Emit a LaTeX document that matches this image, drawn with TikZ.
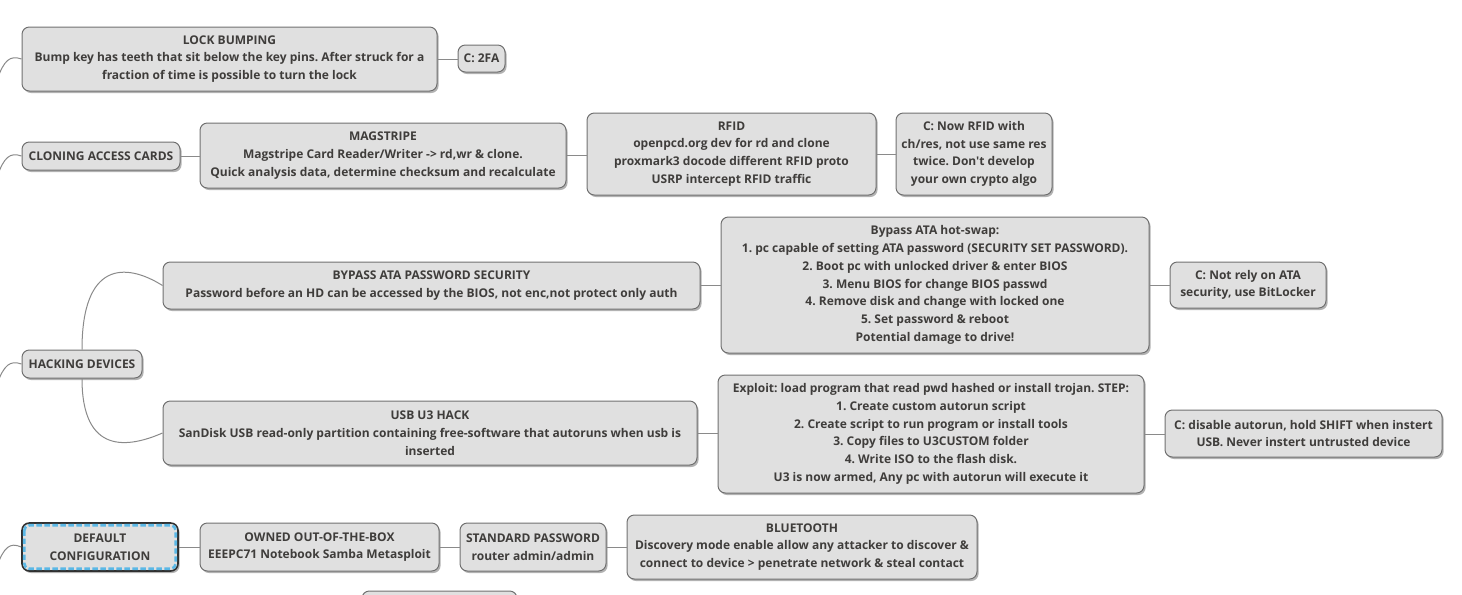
\documentclass[tikz,border=0pt]{standalone}
\usepackage{fontspec}
\setmainfont{Open Sans}[Ligatures=TeXOff]
\usetikzlibrary{shadows,calc}
\definecolor{boxc}{HTML}{E0E0E0}
\definecolor{bordc}{HTML}{707070}
\definecolor{txtc}{HTML}{3F3D3B}
\definecolor{linec}{HTML}{8A8A8A}
\definecolor{selc}{HTML}{5BB8E6}
\definecolor{darkc}{HTML}{303030}
\begin{document}
\frenchspacing
\begin{tikzpicture}[x=0.75pt,y=-0.75pt,
  box/.style={draw=bordc, fill=boxc, rounded corners=5.5pt, line width=0.75pt,
    text=txtc, font=\bfseries\fontsize{9}{13.3}\selectfont, align=center, inner sep=0pt,
    drop shadow={shadow xshift=1.2pt, shadow yshift=-1.5pt, fill=black, opacity=0.3}},
  wh/.style 2 args={minimum width=#1*0.75pt, minimum height=#2*0.75pt},
  conn/.style={draw=linec, line width=0.75pt}]
\useasboundingbox (0,0) rectangle (1462,594);

% nodes
\node[box, wh={415}{64}] (lock) at (229.5,59) {LOCK BUMPING\\Bump key has teeth that sit below the key pins. After struck for a\\fraction of time is possible to turn the lock};
\node[box, wh={47}{27}] (c2fa) at (481.5,58.5) {C: 2FA};

\node[box, wh={158}{28}] (clone) at (101,156) {CLONING ACCESS CARDS};
\node[box, wh={366}{65}] (mag) at (383,155.5) {MAGSTRIPE\\Magstripe Card Reader/Writer -> rd,wr \& clone.\\Quick analysis data, determine checksum and recalculate};
\node[box, wh={289}{82}] (rfid) at (731.5,154) {RFID\\openpcd.org dev for rd and clone\\proxmark3 docode different RFID proto\\USRP intercept RFID traffic};
\node[box, wh={156}{82}] (crfid) at (974,154) {C: Now RFID with\\ch/res, not use same res\\twice. Don't develop\\your own crypto algo};

\node[box, wh={120}{28}] (hack) at (82,364) {HACKING DEVICES};
\node[box, wh={537}{47}] (ata) at (431.5,285.5) {BYPASS ATA PASSWORD SECURITY\\Password before an HD can be accessed by the BIOS, not enc,not protect only auth};
\node[box, wh={428}{136}] (hot) at (935,285) {Bypass ATA hot-swap:\\1. pc capable of setting ATA password (SECURITY SET PASSWORD).\\2. Boot pc with unlocked driver \& enter BIOS\\3. Menu BIOS for change BIOS passwd\\4. Remove disk and change with locked one\\5. Set password \& reboot\\Potential damage to drive!};
\node[box, wh={156}{46}] (cata) at (1248,285) {C: Not rely on ATA\\security, use BitLocker};

\node[box, wh={534}{64}] (u3) at (430,433) {USB U3 HACK\\SanDisk USB read-only partition containing free-software that autoruns when usb is\\inserted};
\node[box, wh={426}{118}] (expl) at (931,434) {Exploit: load program that read pwd hashed or install trojan. STEP:\\1. Create custom autorun script\\2. Create script to run program or install tools\\3. Copy files to U3CUSTOM folder\\4. Write ISO to the flash disk.\\U3 is now armed, Any pc with autorun will execute it};
\node[box, wh={277}{47}] (cu3) at (1303.5,433.5) {C: disable autorun, hold SHIFT when instert\\USB. Never instert untrusted device};

\node[box, wh={156}{48}, draw=darkc, line width=1.2pt] (def) at (100,547) {DEFAULT\\CONFIGURATION};
\draw[selc, line width=2pt, dash pattern=on 4pt off 2pt, rounded corners=4pt]
  ($(def.north west)+(3,3)$) rectangle ($(def.south east)+(-3,-3)$);
\node[box, wh={239}{48}] (own) at (319.5,547) {OWNED OUT-OF-THE-BOX\\EEEPC71 Notebook Samba Metasploit};
\node[box, wh={146}{48}] (std) at (533,547) {STANDARD PASSWORD\\router admin/admin};
\node[box, wh={350}{64}] (blue) at (802,547) {BLUETOOTH\\Discovery mode enable allow any attacker to discover \&\\connect to device > penetrate network \& steal contact};

\node[box, wh={155}{40}] (next) at (439.5,611) {};

% connectors
\draw[conn] (lock.east) -- (lock.east -| c2fa.west);
\draw[conn] (clone.east) -- (clone.east -| mag.west);
\draw[conn] (mag.east) -- (mag.east -| rfid.west);
\draw[conn] (rfid.east) -- (rfid.east -| crfid.west);
\draw[conn] (ata.east) -- (ata.east -| hot.west);
\draw[conn] (hot.east) -- (hot.east -| cata.west);
\draw[conn] (u3.east) -- (u3.east -| expl.west);
\draw[conn] (expl.east) -- (expl.east -| cu3.west);
\draw[conn] (def.east) -- (def.east -| own.west);
\draw[conn] (own.east) -- (own.east -| std.west);
\draw[conn] (std.east) -- (std.east -| blue.west);

\draw[conn] (hack.north) .. controls (82,262) and (125,262) .. (ata.west);
\draw[conn] (hack.south) .. controls (82,455) and (128,448) .. (u3.west);

\coordinate (r1) at (-3,80);
\coordinate (r2) at (-3,177);
\coordinate (r3) at (-3,384);
\coordinate (r4) at (-3,566);
\draw[conn] (lock.west) .. controls (10,55) and (4,60) .. (r1);
\draw[conn] (clone.west) .. controls (10,152) and (4,157) .. (r2);
\draw[conn] (hack.west) .. controls (10,360) and (4,365) .. (r3);
\draw[conn] (def.west) .. controls (10,542) and (4,547) .. (r4);
\end{tikzpicture}
\end{document}
